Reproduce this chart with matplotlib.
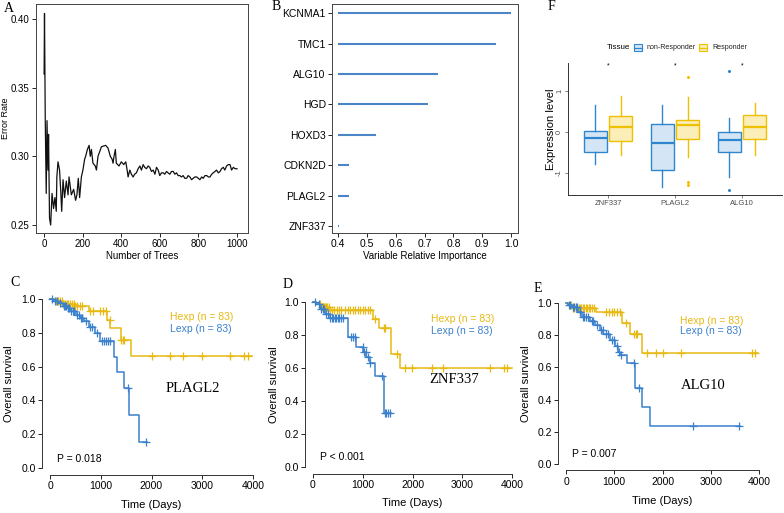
import numpy as np
import matplotlib
matplotlib.use("Agg")
import matplotlib.pyplot as plt
from matplotlib.patches import Rectangle
from matplotlib.lines import Line2D

plt.rcParams['font.family'] = ['Liberation Sans', 'DejaVu Sans']

# ---------------- Panel A data ----------------
trees_A = [1, 3, 7, 12, 16, 21, 24, 29, 35, 42, 50, 57, 64, 67, 73, 81, 87, 92, 99, 107,
           116, 125, 130, 142, 154, 164, 171, 178, 185, 194, 202, 211, 216, 225, 234, 240,
           246, 254, 266, 272, 280, 298, 320, 332, 344, 353, 358, 363, 370, 375, 389, 401,
           413, 424, 431, 436, 445, 453, 462, 470, 479, 488, 497, 505, 514, 522, 531, 540,
           548, 557, 566, 575, 583, 592, 600, 609, 618, 626, 635, 643, 652, 661, 670, 678,
           687, 695, 704, 712, 721, 730, 739, 747, 756, 765, 773, 782, 791, 800, 808, 817,
           825, 834, 843, 852, 860, 869, 877, 886, 894, 903, 912, 920, 929, 937, 946, 955,
           964, 972, 981, 990, 1000]
err_A = [0.36, 0.404, 0.325, 0.273, 0.326, 0.29, 0.316, 0.255, 0.25, 0.273, 0.262, 0.27,
         0.26, 0.285, 0.296, 0.29, 0.275, 0.26, 0.283, 0.27, 0.282, 0.272, 0.285, 0.272,
         0.276, 0.268, 0.272, 0.284, 0.27, 0.285, 0.29, 0.298, 0.30, 0.305, 0.308, 0.30,
         0.305, 0.295, 0.293, 0.29, 0.30, 0.307, 0.308, 0.306, 0.30, 0.298, 0.295, 0.30,
         0.305, 0.295, 0.293, 0.296, 0.294, 0.296, 0.29, 0.285, 0.29, 0.287, 0.285, 0.287,
         0.288, 0.291, 0.293, 0.290, 0.294, 0.292, 0.291, 0.293, 0.292, 0.289, 0.29, 0.287,
         0.292, 0.29, 0.286, 0.288, 0.288, 0.287, 0.289, 0.288, 0.287, 0.289, 0.289, 0.287,
         0.288, 0.286, 0.286, 0.285, 0.286, 0.284, 0.284, 0.286, 0.285, 0.283, 0.284, 0.285,
         0.285, 0.284, 0.283, 0.285, 0.284, 0.286, 0.286, 0.285, 0.285, 0.287, 0.288, 0.289,
         0.29, 0.288, 0.289, 0.291, 0.292, 0.290, 0.293, 0.294, 0.294, 0.29, 0.292, 0.291,
         0.291]

# ---------------- Panel B data ----------------
genes_B = ['ZNF337', 'PLAGL2', 'CDKN2D', 'HOXD3', 'HGD', 'ALG10', 'TMC1', 'KCNMA1']
imp_B = [0.403, 0.437, 0.438, 0.53, 0.712, 0.748, 0.948, 1.0]

# ---------------- Panel F data ----------------
genes_F = ['ZNF337', 'PLAGL2', 'ALG10']
nonR_whislo = [-0.79, -1.34, -1.11]
nonR_q1 = [-0.49, -0.93, -0.49]
nonR_med = [-0.14, -0.28, -0.19]
nonR_q3 = [0.02, 0.20, 0.0]
nonR_whishi = [0.67, 0.67, 0.35]
nonR_fliers = [[], [], [1.49, -1.42]]
resp_whislo = [-0.57, -0.61, -0.57]
resp_q1 = [-0.23, -0.16, -0.16]
resp_med = [0.12, 0.16, 0.11]
resp_q3 = [0.38, 0.30, 0.41]
resp_whishi = [0.87, 0.85, 0.71]
resp_fliers = [[], [1.34, -1.22, -1.30], []]

# ---------------- KM data ----------------
# Panel C (PLAGL2)
C_h_t = [0, 110, 250, 480, 760, 1120, 1185, 1400, 1600]
C_h_s = [1.0, 0.985, 0.97, 0.958, 0.93, 0.876, 0.826, 0.757, 0.664]
C_h_end = 3990
C_h_cens = [120, 150, 200, 230, 260, 300, 330, 360, 400, 430, 470, 500, 540, 580, 620,
            780, 850, 980, 1050, 1100, 1180, 1400, 1430, 1460, 2016, 2371, 2615, 2989,
            3547, 3829, 3896]
C_l_t = [0, 60, 160, 250, 330, 400, 520, 590, 660, 760, 880, 985, 1265, 1320, 1455, 1560, 1755]
C_l_s = [1.0, 0.988, 0.975, 0.96, 0.945, 0.925, 0.905, 0.886, 0.866, 0.836, 0.80, 0.748,
         0.655, 0.566, 0.472, 0.315, 0.157]
C_l_end = 1915
C_l_cens = [30, 100, 130, 200, 280, 300, 320, 350, 380, 420, 450, 480, 540, 560, 600, 620,
            700, 780, 820, 920, 1020, 1060, 1100, 1140, 1180, 1530, 1900]

# Panel D (ZNF337)
D_h_t = [0, 60, 180, 330, 1215, 1320, 1570, 1750]
D_h_s = [1.0, 0.988, 0.97, 0.953, 0.90, 0.84, 0.685, 0.602]
D_h_end = 3990
D_h_cens = [150, 180, 200, 220, 240, 260, 290, 320, 350, 380, 420, 480, 520, 560, 650, 700,
            750, 800, 850, 900, 950, 1000, 1050, 1100, 1150, 1250, 1420, 1450, 1680, 1850,
            1996, 2386, 2620, 3558, 3839, 3906]
D_l_t = [0, 70, 150, 240, 340, 710, 870, 1005, 1070, 1140, 1240, 1430]
D_l_s = [1.0, 0.985, 0.955, 0.93, 0.905, 0.79, 0.73, 0.70, 0.667, 0.63, 0.553, 0.33]
D_l_end = 1570
D_l_cens = [40, 120, 160, 200, 230, 260, 300, 350, 380, 410, 440, 470, 500, 530, 560, 600,
            760, 800, 840, 1000, 1030, 1060, 1100, 1150, 1380, 1440, 1470, 1500, 1540]

# Panel E (ALG10)
E_h_t = [0, 50, 130, 630, 1160, 1320, 1570]
E_h_s = [1.0, 0.985, 0.97, 0.945, 0.875, 0.806, 0.692]
E_h_end = 3990
E_h_cens = [100, 140, 170, 200, 230, 260, 290, 320, 350, 380, 410, 440, 470, 500, 540, 580,
            820, 900, 960, 1000, 1060, 1110, 1240, 1410, 1450, 1480, 1685, 1865, 2004, 2377,
            3848, 3917]
E_l_t = [0, 40, 117, 255, 324, 497, 600, 705, 773, 912, 1016, 1085, 1120, 1258, 1430, 1575, 1735]
E_l_s = [1.0, 0.99, 0.977, 0.946, 0.915, 0.89, 0.866, 0.832, 0.81, 0.77, 0.733, 0.698,
         0.677, 0.625, 0.47, 0.352, 0.236]
E_l_end = 3600
E_l_cens = [60, 90, 140, 170, 200, 230, 280, 300, 350, 380, 420, 460, 530, 560, 650, 720,
            760, 820, 860, 950, 990, 1050, 1100, 1140, 1400, 1520, 2638, 3580]

YEL = '#E8B912'
BLU = '#3A80CC'
LINEB = '#4A86C6'

W, H = 784, 513
fig = plt.figure(figsize=(W / 100, H / 100), dpi=100)


def box(x0, y0, x1, y1):
    return [x0 / W, 1 - y1 / H, (x1 - x0) / W, (y1 - y0) / H]


def letter(x, y, s):
    fig.text(x / W, 1 - y / H, s, family='Liberation Serif', fontsize=10,
             ha='left', va='center')


def ylab_at(ax, xpix, text, fs):
    bb = ax.get_position()
    xa = (xpix / W - bb.x0) / bb.width
    ax.set_ylabel(text, fontsize=fs, va='center')
    ax.yaxis.set_label_coords(xa, 0.5)


def xlab_at(ax, ypix, text, fs):
    bb = ax.get_position()
    ya = (1 - ypix / H - bb.y0) / bb.height
    ax.set_xlabel(text, fontsize=fs, va='center')
    ax.xaxis.set_label_coords(0.5, ya)


TICKFS = 7.5
# ---------------- Panel A ----------------
axA = fig.add_axes(box(36, 4, 248, 233))
axA.plot(trees_A, err_A, color='#111111', lw=0.9)
axA.set_xlim(-41, 1057)
axA.set_ylim(0.2442, 0.4109)
axA.set_xticks([0, 200, 400, 600, 800, 1000])
axA.set_yticks([0.25, 0.30, 0.35, 0.40])
axA.set_yticklabels(['0.25', '0.30', '0.35', '0.40'])
xlab_at(axA, 256, 'Number of Trees', 7)
axA.tick_params(labelsize=7, length=3, width=0.6, pad=1.5)
ylab_at(axA, 6, 'Error Rate', 6.5)
for s in axA.spines.values():
    s.set_color('#444444'); s.set_linewidth(0.7)
letter(4, 8, 'A')

# ---------------- Panel B ----------------
axB = fig.add_axes(box(332, 4, 518, 233))
ypos = np.arange(len(genes_B))
axB.hlines(ypos, 0.4, imp_B, color=LINEB, lw=1.5)
axB.set_xlim(0.379, 1.024)
axB.set_ylim(-0.23, 7.3)
axB.set_yticks(ypos)
axB.set_yticklabels(genes_B)
axB.set_xticks([0.4, 0.5, 0.6, 0.7, 0.8, 0.9, 1.0])
xlab_at(axB, 256, 'Variable Relative Importance', 7)
axB.tick_params(labelsize=TICKFS, length=3, width=0.6, pad=1.5)
for s in axB.spines.values():
    s.set_color('#444444'); s.set_linewidth(0.7)
letter(272, 6, 'B')

# ---------------- Panel F ----------------
axF = fig.add_axes(box(568, 63, 782, 195))
FB_EDGE = '#2E86CF'
FB_FILL = '#D4E6F6'
FY_EDGE = '#EFC000'
FY_FILL = '#FBEEB8'
pos = np.arange(1, 4)
statsN, statsR = [], []
for i in range(3):
    statsN.append(dict(med=nonR_med[i], q1=nonR_q1[i], q3=nonR_q3[i],
                       whislo=nonR_whislo[i], whishi=nonR_whishi[i], fliers=nonR_fliers[i]))
    statsR.append(dict(med=resp_med[i], q1=resp_q1[i], q3=resp_q3[i],
                       whislo=resp_whislo[i], whishi=resp_whishi[i], fliers=resp_fliers[i]))
for stats, off, ec, fc in [(statsN, -0.19, FB_EDGE, FB_FILL), (statsR, 0.19, FY_EDGE, FY_FILL)]:
    axF.bxp(stats, positions=pos + off, widths=0.34, patch_artist=True, showcaps=False,
            boxprops=dict(facecolor=fc, edgecolor=ec, linewidth=1.0),
            medianprops=dict(color=ec, linewidth=1.6),
            whiskerprops=dict(color=ec, linewidth=1.0),
            flierprops=dict(marker='o', markersize=1.2, markerfacecolor=ec,
                            markeredgecolor=ec))
for p in pos:
    axF.text(p, 1.61, '*', ha='center', va='center', fontsize=5, color='black')
axF.set_xlim(0.4, 3.6)
axF.set_ylim(-1.537, 1.683)
axF.set_xticks(pos)
axF.set_xticklabels(genes_F)
axF.set_yticks([-1, 0, 1])
axF.set_yticklabels(['-1', '0', '1'], rotation=90, va='center')
axF.tick_params(labelsize=5.5, length=2, width=0.5, pad=1.5, colors='#4D4D4D')
ylab_at(axF, 551, 'Expression level', 8)
axF.spines['top'].set_visible(False)
axF.spines['right'].set_visible(False)
for s in ['left', 'bottom']:
    axF.spines[s].set_linewidth(0.7); axF.spines[s].set_color('#333333')
letter(548, 7, 'F')
# legend
ly = 1 - 47.5 / H
fig.text(607 / W, ly, 'Tissue', fontsize=5.8, va='center', ha='left')
for x0, ec, fc, lab in [(634, FB_EDGE, FB_FILL, 'non-Responder'), (699, FY_EDGE, FY_FILL, 'Responder')]:
    fig.add_artist(Rectangle((x0 / W, 1 - 51 / H), 8 / W, 7 / H, transform=fig.transFigure,
                             facecolor=fc, edgecolor=ec, lw=0.8))
    fig.add_artist(Line2D([x0 / W, (x0 + 8) / W], [ly, ly], transform=fig.transFigure,
                          color=ec, lw=0.9))
    fig.text((x0 + 13) / W, ly, lab, fontsize=5.1, va='center', ha='left', color='#222222')


# ---------------- KM panels ----------------
def km(ax, t, s, end, cens, color):
    t = np.asarray(t, float); s = np.asarray(s, float)
    ax.step(np.append(t, end), np.append(s, s[-1]), where='post', color=color, lw=1.1)
    cy = s[np.searchsorted(t, cens, side='right') - 1]
    ax.plot(cens, cy, ls='none', marker='+', ms=6, mew=0.9, color=color)


def km_axes(rect, hdata, ldata, gene, gene_pos, leg_pos, ptxt, p_pos, lab, lab_xy, ylx, xly):
    ax = fig.add_axes(rect)
    km(ax, *hdata, YEL)
    km(ax, *ldata, BLU)
    ax.set_xlim(-160, 4160)
    ax.set_ylim(-0.04, 1.04)
    ax.set_xticks([0, 1000, 2000, 3000, 4000])
    ax.set_yticks([0, 0.2, 0.4, 0.6, 0.8, 1.0])
    ax.set_yticklabels(['0.0', '0.2', '0.4', '0.6', '0.8', '1.0'])
    ax.spines['top'].set_visible(False)
    ax.spines['right'].set_visible(False)
    ax.spines['bottom'].set_bounds(0, 4000)
    ax.spines['left'].set_bounds(0, 1)
    for sp in ['left', 'bottom']:
        ax.spines[sp].set_linewidth(0.7); ax.spines[sp].set_color('#333333')
    ax.tick_params(labelsize=TICKFS, length=3, width=0.6, pad=1.5)
    xlab_at(ax, xly, 'Time (Days)', 8)
    ylab_at(ax, ylx, 'Overall survival', 8)
    ax.text(leg_pos[0], leg_pos[1], 'Hexp (n = 83)', color=YEL, fontsize=7.5, va='center')
    ax.text(leg_pos[0], leg_pos[2], 'Lexp (n = 83)', color=BLU, fontsize=7.5, va='center')
    ax.text(gene_pos[0], gene_pos[1], gene, family='Liberation Serif', fontsize=10.5,
            ha='center', va='center')
    ax.text(p_pos[0], p_pos[1], ptxt, fontsize=7.5, va='center')
    letter(lab_xy[0], lab_xy[1], lab)
    return ax


km_axes(box(42, 292, 261, 475), (C_h_t, C_h_s, C_h_end, C_h_cens),
        (C_l_t, C_l_s, C_l_end, C_l_cens), 'PLAGL2', (2808, 0.47), (2365, 0.893, 0.822),
        'P = 0.018', (138, 0.057), 'C', (10, 282), 9, 505)
km_axes(box(305, 295.4, 520, 473.6), (D_h_t, D_h_s, D_h_end, D_h_cens),
        (D_l_t, D_l_s, D_l_end, D_l_cens), 'ZNF337', (2828, 0.53), (2366, 0.897, 0.826),
        'P < 0.001', (141, 0.062), 'D', (283, 285), 274, 503)
km_axes(box(558.3, 296.6, 766.7, 470.4), (E_h_t, E_h_s, E_h_end, E_h_cens),
        (E_l_t, E_l_s, E_l_end, E_l_cens), 'ALG10', (2840, 0.49), (2363, 0.89, 0.826),
        'P = 0.007', (131, 0.062), 'E', (534, 288), 526, 501)

fig.savefig('out.png', dpi=100)
